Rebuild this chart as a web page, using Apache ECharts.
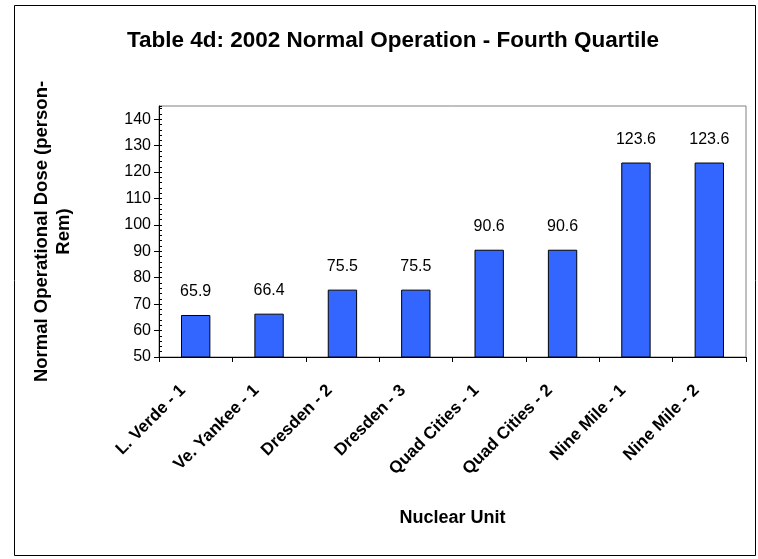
<!DOCTYPE html>
<html>
<head>
<meta charset="utf-8">
<script src="https://cdn.jsdelivr.net/npm/echarts@6/dist/echarts.min.js"></script>
<style>
  html, body { margin: 0; padding: 0; background: #fff; }
  #chart { width: 758px; height: 559px; }
</style>
</head>
<body>
<div id="chart"></div>
<script>
const units = ['L. Verde - 1', 'Ve. Yankee - 1', 'Dresden - 2', 'Dresden - 3',
  'Quad Cities - 1', 'Quad Cities - 2', 'Nine Mile - 1', 'Nine Mile - 2']
const doses = [65.9, 66.4, 75.5, 75.5, 90.6, 90.6, 123.6, 123.6]
const yTicks = [50, 60, 70, 80, 90, 100, 110, 120, 130, 140]

const font = 'Liberation Sans, Arial, sans-serif'
const chart = echarts.init(document.getElementById('chart'))

const option = {
  animation: false,
  backgroundColor: '#fff',
  textStyle: { fontFamily: font },
  title: {
    text: 'Table 4d: 2002 Normal Operation - Fourth Quartile',
    left: 388,
    textAlign: 'center',
    top: 24,
    textStyle: { fontSize: 22.5, fontWeight: 'bold', color: '#000', fontFamily: font }
  },
  graphic: [{
    type: 'rect',
    shape: { x: 14.5, y: 5.5, width: 741, height: 550 },
    style: { fill: 'none', stroke: '#000', lineWidth: 1 },
    silent: true
  }],
  grid: {
    left: 159,
    right: 12,
    top: 106,
    bottom: 202,
    show: true,
    borderColor: '#808080',
    borderWidth: 1
  },
  xAxis: {
    type: 'category',
    data: units,
    name: 'Nuclear Unit',
    nameLocation: 'middle',
    nameGap: 152,
    nameTextStyle: { fontSize: 18, fontWeight: 'bold', color: '#000', fontFamily: font },
    axisLine: { lineStyle: { color: '#000', width: 1 } },
    axisTick: { show: true, length: 5, lineStyle: { color: '#000' } },
    axisLabel: {
      interval: 0,
      rotate: 45,
      margin: 18,
      padding: [0, 18, 0, 0],
      fontSize: 17,
      fontWeight: 'bold',
      color: '#000',
      fontFamily: font
    }
  },
  yAxis: [{
    type: 'value',
    min: yTicks[0],
    max: 145,
    interval: 10,
    name: 'Normal Operational Dose (person-\nRem)',
    nameLocation: 'middle',
    nameGap: 84,
    nameTextStyle: { fontSize: 18.5, fontWeight: 'bold', color: '#000', lineHeight: 22, fontFamily: font },
    axisLine: { show: true, lineStyle: { color: '#000', width: 1 } },
    axisTick: { show: true, length: 5, lineStyle: { color: '#000' } },
    axisLabel: {
      fontSize: 16,
      color: '#000',
      margin: 8,
      fontFamily: font,
      showMaxLabel: false,
      formatter: v => (yTicks.includes(v) ? String(v) : '')
    },
    splitLine: { show: false }
  }, {
    type: 'value',
    position: 'left',
    min: yTicks[0],
    max: 145,
    interval: 10,
    axisLine: { show: false },
    axisTick: { show: true, inside: true, length: 3, lineStyle: { color: '#000' } },
    minorTick: { show: true, splitNumber: 5, length: 3, lineStyle: { color: '#000' } },
    axisLabel: { show: false },
    splitLine: { show: false }
  }],
  series: [{
    type: 'bar',
    data: doses,
    barCategoryGap: '60%',
    itemStyle: { color: '#3366FF', borderColor: '#000', borderWidth: 1 },
    label: {
      show: true,
      position: 'top',
      distance: 15,
      fontSize: 16,
      color: '#000',
      fontFamily: font,
      formatter: p => p.value.toFixed(1)
    }
  }]
}

chart.setOption(option)
</script>
</body>
</html>
